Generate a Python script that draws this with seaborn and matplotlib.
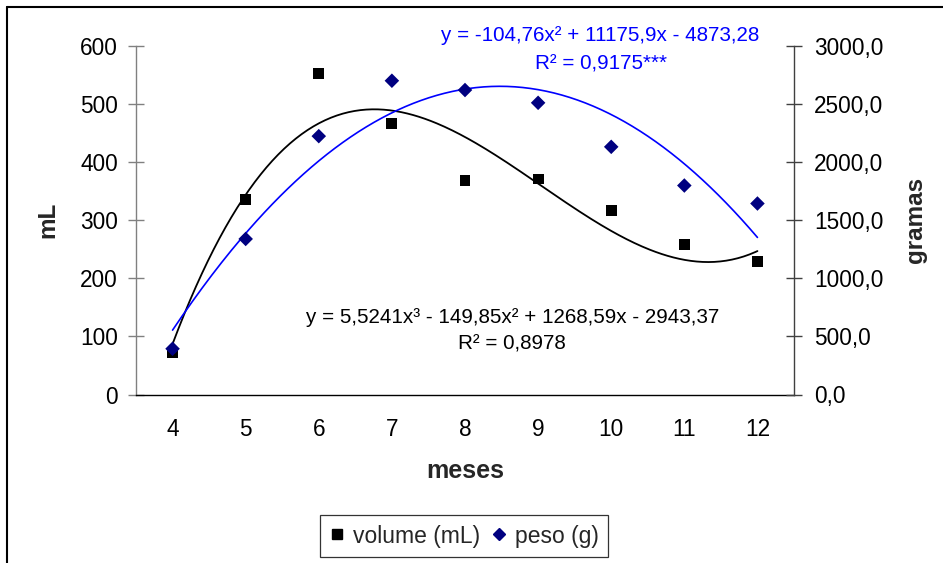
import numpy as np
import matplotlib
matplotlib.use("Agg")
import matplotlib.pyplot as plt
import seaborn as sns
from matplotlib.lines import Line2D

# ---- data ----
meses = [4, 5, 6, 7, 8, 9, 10, 11, 12]
volume_ml = [73, 336, 552, 466, 368, 371, 317, 258, 229]
peso_g = [394, 1339, 2224, 2701, 2621, 2511, 2132, 1799, 1644]
# trendline coefficients (highest power first)
volume_coef = [5.5241, -149.85, 1268.59, -2943.37]
peso_coef = [-104.76, 1775.9, -4873.28]
eq_volume = "y = 5,5241x³ - 149,85x² + 1268,59x - 2943,37"
r2_volume = "R² = 0,8978"
eq_peso = "y = -104,76x² + 11175,9x - 4873,28"
r2_peso = "R² = 0,9175***"
ml_ticks = [0, 100, 200, 300, 400, 500, 600]
g_ticks = [0, 500, 1000, 1500, 2000, 2500, 3000]
legend_labels = ["volume (mL)", "peso (g)"]

sns.set_theme(style="white")
plt.rcParams["font.family"] = ["Liberation Sans", "DejaVu Sans"]

W, H = 943, 563
fig = plt.figure(figsize=(W / 100, H / 100), dpi=100)
ax = fig.add_axes([136 / W, 1 - 394.5 / H, 658 / W, 348.5 / H])
ax2 = ax.twinx()

xs = np.linspace(meses[0], meses[-1], 300)
sns.lineplot(x=xs, y=np.polyval(volume_coef, xs), ax=ax, color="black", lw=1.3)
sns.scatterplot(x=meses, y=volume_ml, ax=ax, marker="s", color="black",
                s=62, edgecolor="none", legend=False, zorder=3)
sns.lineplot(x=xs, y=np.polyval(peso_coef, xs), ax=ax2, color="#0000ff", lw=1.2)
sns.scatterplot(x=meses, y=peso_g, ax=ax2, marker="D", color="#000080",
                s=55, edgecolor="none", legend=False, zorder=3)

ax.set_xlim(meses[0] - 0.5, meses[-1] + 0.5)
ax.set_ylim(ml_ticks[0], ml_ticks[-1])
ax2.set_ylim(g_ticks[0], g_ticks[-1])

ax.set_xticks(meses)
ax.set_xticklabels([str(m) for m in meses])
ax.set_xticks([m - 0.5 for m in meses] + [meses[-1] + 0.5], minor=True)
ax.set_yticks(ml_ticks)
ax.set_yticklabels([str(t) for t in ml_ticks])
ax2.set_yticks(g_ticks)
ax2.set_yticklabels([f"{t:.1f}".replace(".", ",") for t in g_ticks])

fs = 16.3
ax.tick_params(axis="x", which="major", length=0, pad=17, labelsize=fs, labelcolor="black")
ax.tick_params(axis="x", which="minor", direction="inout", length=10, width=1, color="black")
ax.tick_params(axis="y", direction="inout", length=11, width=1, color="#808080",
               pad=7.5, labelsize=fs, labelcolor="black", left=True)
ax2.tick_params(axis="y", direction="inout", length=11, width=1, color="#404040",
                pad=9, labelsize=fs, labelcolor="black", right=True)

for a in (ax, ax2):
    a.spines["top"].set_visible(False)
    a.grid(False)
ax.spines["right"].set_visible(False)
ax2.spines["left"].set_visible(False)
ax2.spines["bottom"].set_visible(False)
ax.spines["left"].set_color("#808080")
ax.spines["left"].set_linewidth(1)
ax.spines["bottom"].set_color("black")
ax.spines["bottom"].set_linewidth(1)
ax2.spines["right"].set_color("#404040")
ax2.spines["right"].set_linewidth(1)

ax.set_xlabel("meses", fontsize=18, fontweight="bold")
ax.set_ylabel("mL", fontsize=17.5, fontweight="bold")
ax2.set_ylabel("gramas", fontsize=17.5, fontweight="bold")
ax.xaxis.set_label_coords(0.5, (394 - 470) / 348)
ax.xaxis.label.set_va("center")
ax.yaxis.set_label_coords((48 - 136) / 658, 0.5)
ax.yaxis.label.set_va("center")
ax2.yaxis.set_label_coords((915 - 136) / 658, 0.5)
ax2.yaxis.label.set_va("center")

eq_fs = 14.9
ax.text((513 - 136) / 658, (394 - 317) / 348, eq_volume, transform=ax.transAxes,
        ha="center", va="center", fontsize=eq_fs, color="black")
ax.text((512 - 136) / 658, (394 - 344) / 348, r2_volume, transform=ax.transAxes,
        ha="center", va="center", fontsize=eq_fs, color="black")
ax2.text((600 - 136) / 658, (394 - 35.7) / 348, eq_peso, transform=ax.transAxes,
         ha="center", va="center", fontsize=eq_fs, color="#0000ff")
ax2.text((601 - 136) / 658, (394 - 64) / 348, r2_peso, transform=ax.transAxes,
         ha="center", va="center", fontsize=eq_fs, color="#0000ff")

handles = [Line2D([], [], marker="s", ls="none", color="black", markersize=7),
           Line2D([], [], marker="D", ls="none", color="#000080", markersize=6)]
leg = fig.legend(handles, legend_labels, loc="center",
                 bbox_to_anchor=(464 / W, 1 - 536 / H), ncol=2, frameon=True,
                 fancybox=False, edgecolor="black", fontsize=16.5,
                 handlelength=0.7, handletextpad=0.35, columnspacing=0.5,
                 borderpad=0.4, borderaxespad=0)
leg.get_frame().set_linewidth(0.9)

fig.add_artist(Line2D([7 / W, 7 / W], [0, 1 - 7 / H], transform=fig.transFigure,
                      color="black", lw=1.5))
fig.add_artist(Line2D([7 / W, 1], [1 - 7 / H, 1 - 7 / H], transform=fig.transFigure,
                      color="black", lw=1.5))

fig.savefig("out.png", dpi=100, facecolor="white")
